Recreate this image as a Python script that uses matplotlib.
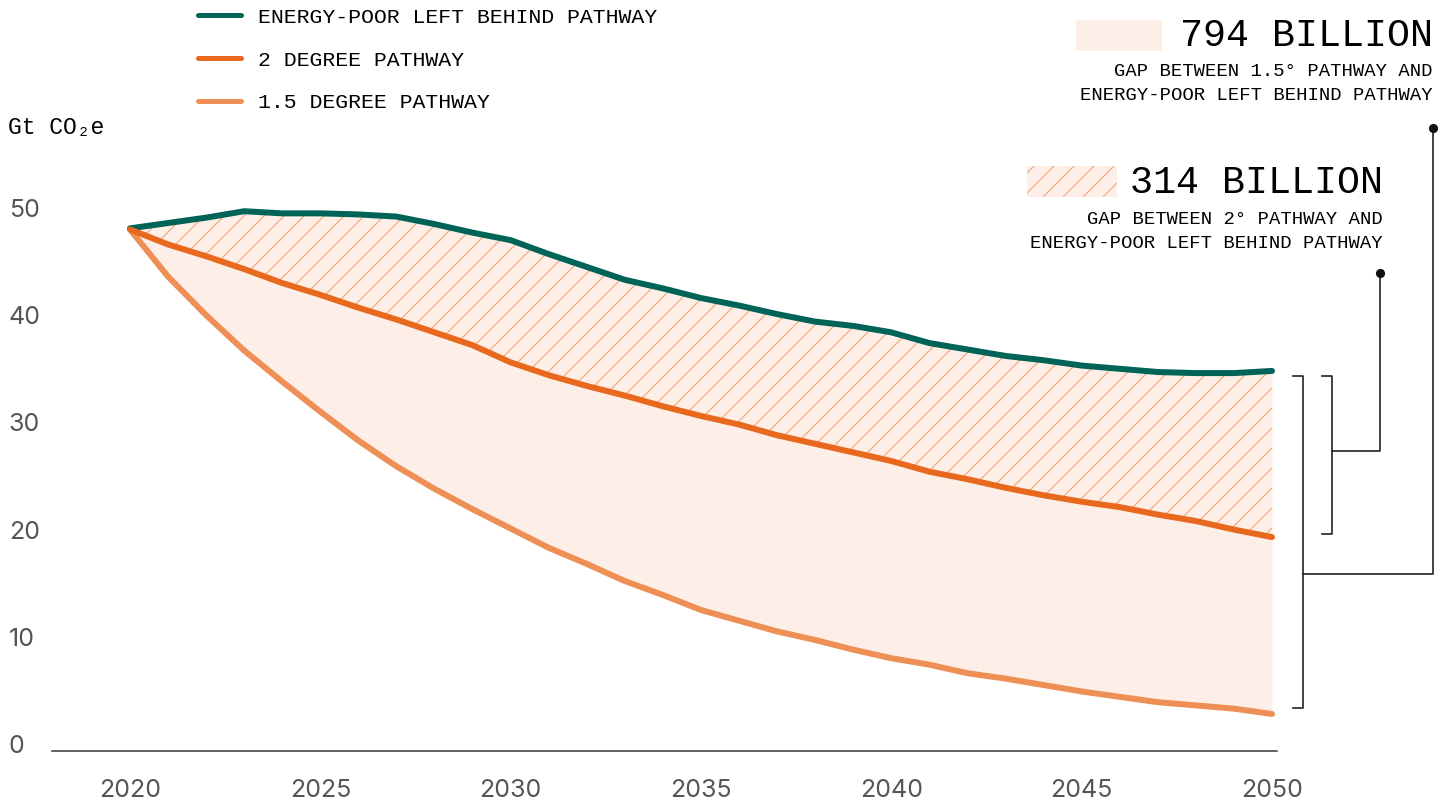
import numpy as np
import matplotlib
matplotlib.use("Agg")
import matplotlib.pyplot as plt
from matplotlib.patches import Rectangle

# data (Gt CO2e per year)
years = list(range(2020, 2051))
energy_poor = [48.1, 48.6, 49.1, 49.7, 49.5, 49.5, 49.4, 49.2, 48.5, 47.7,
               47.0, 45.7, 44.5, 43.3, 42.5, 41.6, 40.9, 40.1, 39.4, 39.0,
               38.4, 37.4, 36.8, 36.2, 35.8, 35.3, 35.0, 34.7, 34.6, 34.6, 34.8]
two_degree = [48.0, 46.6, 45.5, 44.3, 43.0, 41.9, 40.7, 39.6, 38.4, 37.2,
              35.6, 34.4, 33.4, 32.5, 31.5, 30.6, 29.8, 28.8, 28.0, 27.2,
              26.4, 25.4, 24.7, 23.9, 23.2, 22.6, 22.1, 21.4, 20.8, 20.0, 19.3]
one_five = [48.0, 43.6, 40.0, 36.7, 33.8, 31.0, 28.3, 25.9, 23.8, 21.9,
            20.1, 18.3, 16.8, 15.2, 13.9, 12.5, 11.5, 10.5, 9.7, 8.8,
            8.0, 7.4, 6.6, 6.1, 5.5, 4.9, 4.4, 3.9, 3.6, 3.3, 2.8]
xticks = [2020, 2025, 2030, 2035, 2040, 2045, 2050]
yticks = [0, 10, 20, 30, 40, 50]
legend_labels = ["ENERGY-POOR LEFT BEHIND PATHWAY", "2 DEGREE PATHWAY", "1.5 DEGREE PATHWAY"]

GREEN = "#006357"
ORANGE = "#E8691E"
LIGHT = "#EE8F55"
PEACH = "#FDEFE7"
HATCH = "#F2A878"
MONO = ["Liberation Mono", "DejaVu Sans Mono"]

W, H, DPI = 1445, 803, 120
plt.rcParams["hatch.linewidth"] = 0.7

fig = plt.figure(figsize=(W / DPI, H / DPI), dpi=DPI)


def fx(px):
    return px / W


def fy(py):
    return 1 - py / H


# axes placed so 2020 -> x=130px, 2050 -> x=1272px, 0 -> y=744px
ax = fig.add_axes([fx(52), fy(751), fx(1277) - fx(52), fy(190) - fy(751)])
ax.set_xlim(2020 - 78 / 38.07, 2050 + 5 / 38.07)
ax.set_ylim(-7 / 10.72, (744 - 190) / 10.72)

ax.fill_between(years, one_five, energy_poor, color=PEACH, lw=0, zorder=1)
ax.fill_between(years, two_degree, energy_poor, facecolor="none", edgecolor=HATCH,
                hatch="//", lw=0, zorder=2)

l1, = ax.plot(years, energy_poor, color=GREEN, lw=3.6, solid_capstyle="round", zorder=4)
l2, = ax.plot(years, two_degree, color=ORANGE, lw=3.6, solid_capstyle="round", zorder=4)
l3, = ax.plot(years, one_five, color=LIGHT, lw=3.6, solid_capstyle="round", zorder=3)

for s in ["top", "right", "left"]:
    ax.spines[s].set_visible(False)
ax.spines["bottom"].set_color("#333333")
ax.spines["bottom"].set_linewidth(0.9)

ax.set_xticks(xticks)
ax.set_xticklabels([str(t) for t in xticks])
ax.set_yticks(yticks)
ax.set_yticklabels([str(t) for t in yticks])
ax.tick_params(axis="x", length=0, pad=17, labelsize=15, labelcolor="#555555")
ax.tick_params(axis="y", length=0, pad=26, labelsize=15, labelcolor="#555555")
for lab in ax.get_xticklabels() + ax.get_yticklabels():
    lab.set_family(["Inter", "DejaVu Sans"])
for lab in ax.get_yticklabels():
    lab.set_horizontalalignment("left")

leg = fig.legend([l1, l2, l3], legend_labels, loc="upper left",
                 bbox_to_anchor=(fx(187), fy(-3)), frameon=False, borderpad=0,
                 handlelength=2.0, handletextpad=0.8, labelspacing=1.1,
                 prop={"family": MONO, "size": 12.9})
for h in leg.legend_handles:
    h.set_linewidth(3.0)

fig.text(fx(8), fy(127), "Gt CO₂e", family=MONO, fontsize=13.8, va="center", ha="left")

# callouts
fig.add_artist(Rectangle((fx(1076), fy(51)), fx(86), 31 / H, facecolor=PEACH, lw=0))
fig.text(fx(1433), fy(36), "794 BILLION", family=MONO, fontsize=23, ha="right", va="center")
fig.text(fx(1433), fy(72), "GAP BETWEEN 1.5° PATHWAY AND", family=MONO, fontsize=11.3,
         ha="right", va="center")
fig.text(fx(1433), fy(96), "ENERGY-POOR LEFT BEHIND PATHWAY", family=MONO, fontsize=11.3,
         ha="right", va="center")

fig.add_artist(Rectangle((fx(1027), fy(197)), fx(90), 31 / H, facecolor=PEACH,
                         edgecolor=HATCH, hatch="//", lw=0))
fig.text(fx(1383), fy(183), "314 BILLION", family=MONO, fontsize=23, ha="right", va="center")
fig.text(fx(1383), fy(219), "GAP BETWEEN 2° PATHWAY AND", family=MONO, fontsize=11.3,
         ha="right", va="center")
fig.text(fx(1383), fy(243), "ENERGY-POOR LEFT BEHIND PATHWAY", family=MONO, fontsize=11.3,
         ha="right", va="center")


# brackets, x given in pixels converted to data, y tied to the series ends
def xd(px):
    return 2020 + (px - 130) / 38.07


top = energy_poor[-1] - 0.5
inner_bot = two_degree[-1] + 0.3
outer_bot = one_five[-1] + 0.6
inner_mid = 27.3
outer_mid = 15.9
kw = dict(color="#222222", lw=1.0, clip_on=False, zorder=5)
ax.plot([xd(1293), xd(1303), xd(1303), xd(1293)], [top, top, outer_bot, outer_bot], **kw)
ax.plot([xd(1322), xd(1332), xd(1332), xd(1322)], [top, top, inner_bot, inner_bot], **kw)
ax.plot([xd(1303), xd(1433), xd(1433)], [outer_mid, outer_mid, 57.5], **kw)
ax.plot([xd(1332), xd(1380), xd(1380)], [inner_mid, inner_mid, 43.9], **kw)
ax.plot([xd(1433), xd(1380)], [57.5, 43.9], "o", color="#111111", ms=4.5, clip_on=False, zorder=6)

fig.savefig("out.png", dpi=DPI)
